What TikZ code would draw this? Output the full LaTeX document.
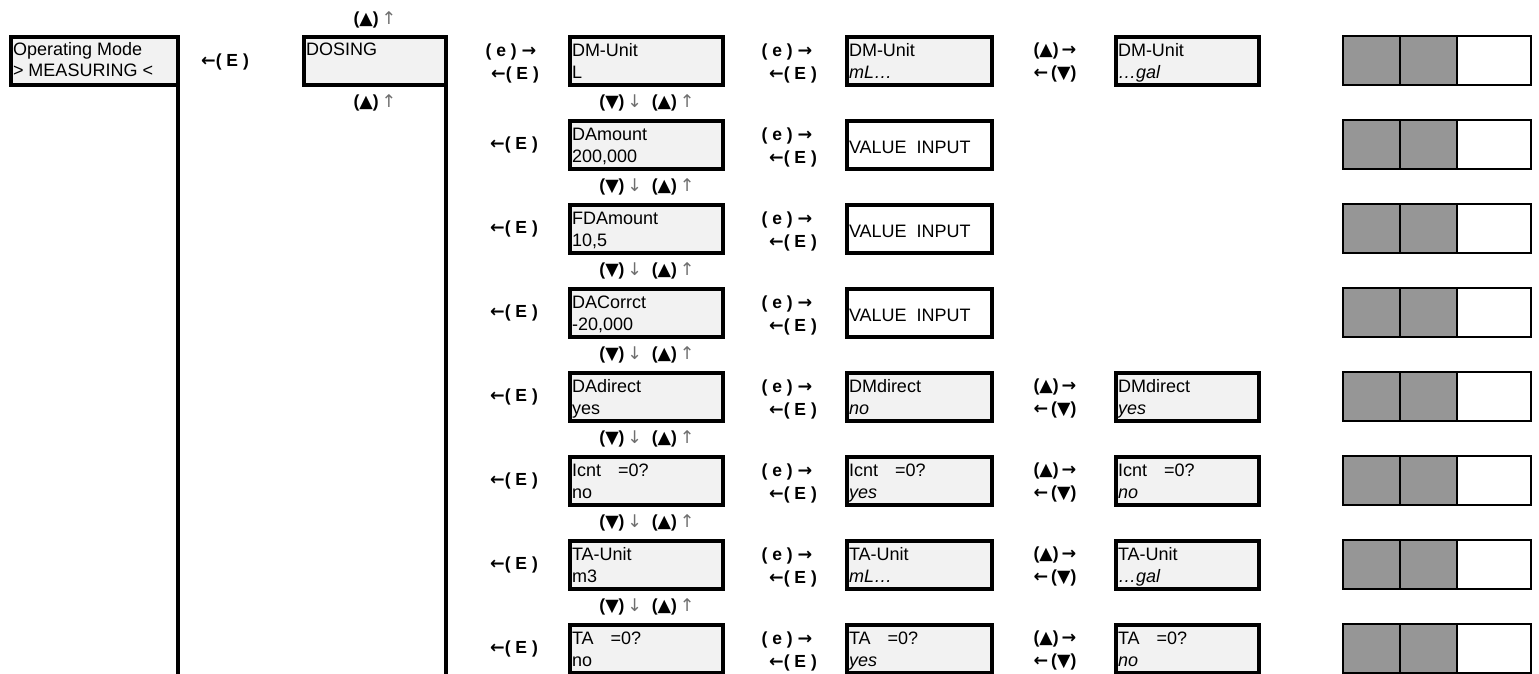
\documentclass[tikz,border=0pt]{standalone}
\usepackage{fontspec}
\setmainfont{Liberation Sans}
\newfontfamily\arrfont{DejaVu Sans}
\definecolor{lcdgray}{HTML}{F2F2F2}
\definecolor{seggray}{HTML}{969696}
\definecolor{arrgray}{HTML}{6E6E6E}
\begin{document}
\begin{tikzpicture}[x=1pt, y=-1pt,
  every node/.style={inner sep=0pt, outer sep=0pt, font=\fontsize{18}{22}\selectfont},
  lcd/.style={draw, line width=4pt, fill=lcdgray, anchor=north west, minimum height=48pt},
  entry/.style={lcd, fill=white},
  keys/.style={font=\fontsize{17.5}{17}\selectfont\bfseries},
  seg/.style={draw, line width=1.8pt}]
  \useasboundingbox (0,0) rectangle (1539,673);
  % Operating mode and DOSING menu
  \node[lcd, minimum width=167pt] (mode) at (11,37) {};
  \node[anchor=base west] (mode-a) at ([shift={(2,18)}]mode.north west) {Operating Mode};
  \node[anchor=base west] (mode-b) at ([shift={(2,39)}]mode.north west) {> MEASURING <};
  \node[keys] (mode-key) at (225,62) {{\arrfont ←}( E )};
  \node[lcd, minimum width=142pt] (dos) at (304,37) {};
  \node[anchor=base west] (dos-a) at ([shift={(2,18)}]dos.north west) {DOSING};
  \node[keys] (dos-up) at (375,20) {({\arrfont ▲})\,{\arrfont\mdseries\color{arrgray}↑}};
  \node[keys] (dos-dn) at (375,103) {({\arrfont ▲})\,{\arrfont\mdseries\color{arrgray}↑}};
  % Menu lines down the page
  \coordinate (foot) at (0,690);
  \draw[line width=4pt] (mode.south east) -- (mode.south east |- foot);
  \draw[line width=4pt] (dos.south east) -- (dos.south east |- foot);
  % First column: parameters
  \foreach \tl/\vl [count=\r] in {DM-Unit/L, DAmount/{200,000}, FDAmount/{10,5}, DACorrct/{-20,000},
      DAdirect/yes, {Icnt\hspace{17pt}=0?}/no, TA-Unit/m3, {TA\hspace{17pt}=0?}/no} {
    \pgfmathsetmacro\T{37+84*(\r-1)}
    \node[lcd, minimum width=153pt] (c1-\r) at (570,\T) {};
    \node[anchor=base west] (c1-\r-a) at ([shift={(2,19)}]c1-\r.north west) {\tl};
    \node[anchor=base west] (c1-\r-b) at ([shift={(2,41)}]c1-\r.north west) {\vl};
  }
  \node[keys] (k1-e) at (511,52) {( e ) {\arrfont →}};
  \node[keys] (k1-E) at (515,75) {{\arrfont ←}( E )};
  \foreach \r in {2,...,8}
    \node[keys] (k1-\r) at (514,{35+84*(\r-1)+26}) {{\arrfont ←}( E )};
  \foreach \r in {1,...,7}
    \node[keys] (nav-\r) at (647,{35+84*(\r-1)+68})
      {({\arrfont ▼})\,{\arrfont\mdseries\color{arrgray}↓}\ \ ({\arrfont ▲})\,{\arrfont\mdseries\color{arrgray}↑}};
  % Second column: edit
  \foreach \r in {1,...,8} {
    \node[keys] (k2-\r-e) at (787,{35+84*(\r-1)+17}) {( e ) {\arrfont →}};
    \node[keys] (k2-\r-E) at (793,{35+84*(\r-1)+40}) {{\arrfont ←}( E )};
  }
  \foreach \r/\tl/\vl in {1/DM-Unit/mL\ldots, 5/DMdirect/no, 6/{Icnt\hspace{17pt}=0?}/yes,
      7/TA-Unit/mL\ldots, 8/{TA\hspace{17pt}=0?}/yes} {
    \pgfmathsetmacro\T{37+84*(\r-1)}
    \node[lcd, minimum width=145pt] (c2-\r) at (847,\T) {};
    \node[anchor=base west] (c2-\r-a) at ([shift={(2,19)}]c2-\r.north west) {\tl};
    \node[anchor=base west] (c2-\r-b) at ([shift={(2,41)}]c2-\r.north west) {\itshape\vl};
  }
  \foreach \r in {2,3,4} {
    \pgfmathsetmacro\T{37+84*(\r-1)}
    \node[entry, minimum width=145pt] (c2-\r) at (847,\T) {};
    \node[anchor=base west] (c2-\r-a) at ([shift={(2,32)}]c2-\r.north west) {VALUE~~INPUT};
  }
  % Third column: choices
  \foreach \r/\tl/\vl in {1/DM-Unit/\ldots gal, 5/DMdirect/yes, 6/{Icnt\hspace{17pt}=0?}/no,
      7/TA-Unit/\ldots gal, 8/{TA\hspace{17pt}=0?}/no} {
    \pgfmathsetmacro\T{37+84*(\r-1)}
    \node[keys] (k3-\r-u) at (1055,{\T+14}) {({\arrfont ▲})\,{\arrfont →}};
    \node[keys] (k3-\r-d) at (1055,{\T+37}) {{\arrfont ←}\,({\arrfont ▼})};
    \node[lcd, minimum width=143pt] (c3-\r) at (1116,\T) {};
    \node[anchor=base west] (c3-\r-a) at ([shift={(2,19)}]c3-\r.north west) {\tl};
    \node[anchor=base west] (c3-\r-b) at ([shift={(2,41)}]c3-\r.north west) {\itshape\vl};
  }
  % Display segments
  \foreach \r in {1,...,8} {
    \pgfmathsetmacro\T{36+84*(\r-1)}
    \draw[seg, fill=seggray] (1343,\T) rectangle (1400,\T+49);
    \draw[seg, fill=seggray] (1400,\T) rectangle (1457,\T+49);
    \draw[seg, fill=white] (1457,\T) rectangle (1531,\T+49);
  }
\end{tikzpicture}
\end{document}
